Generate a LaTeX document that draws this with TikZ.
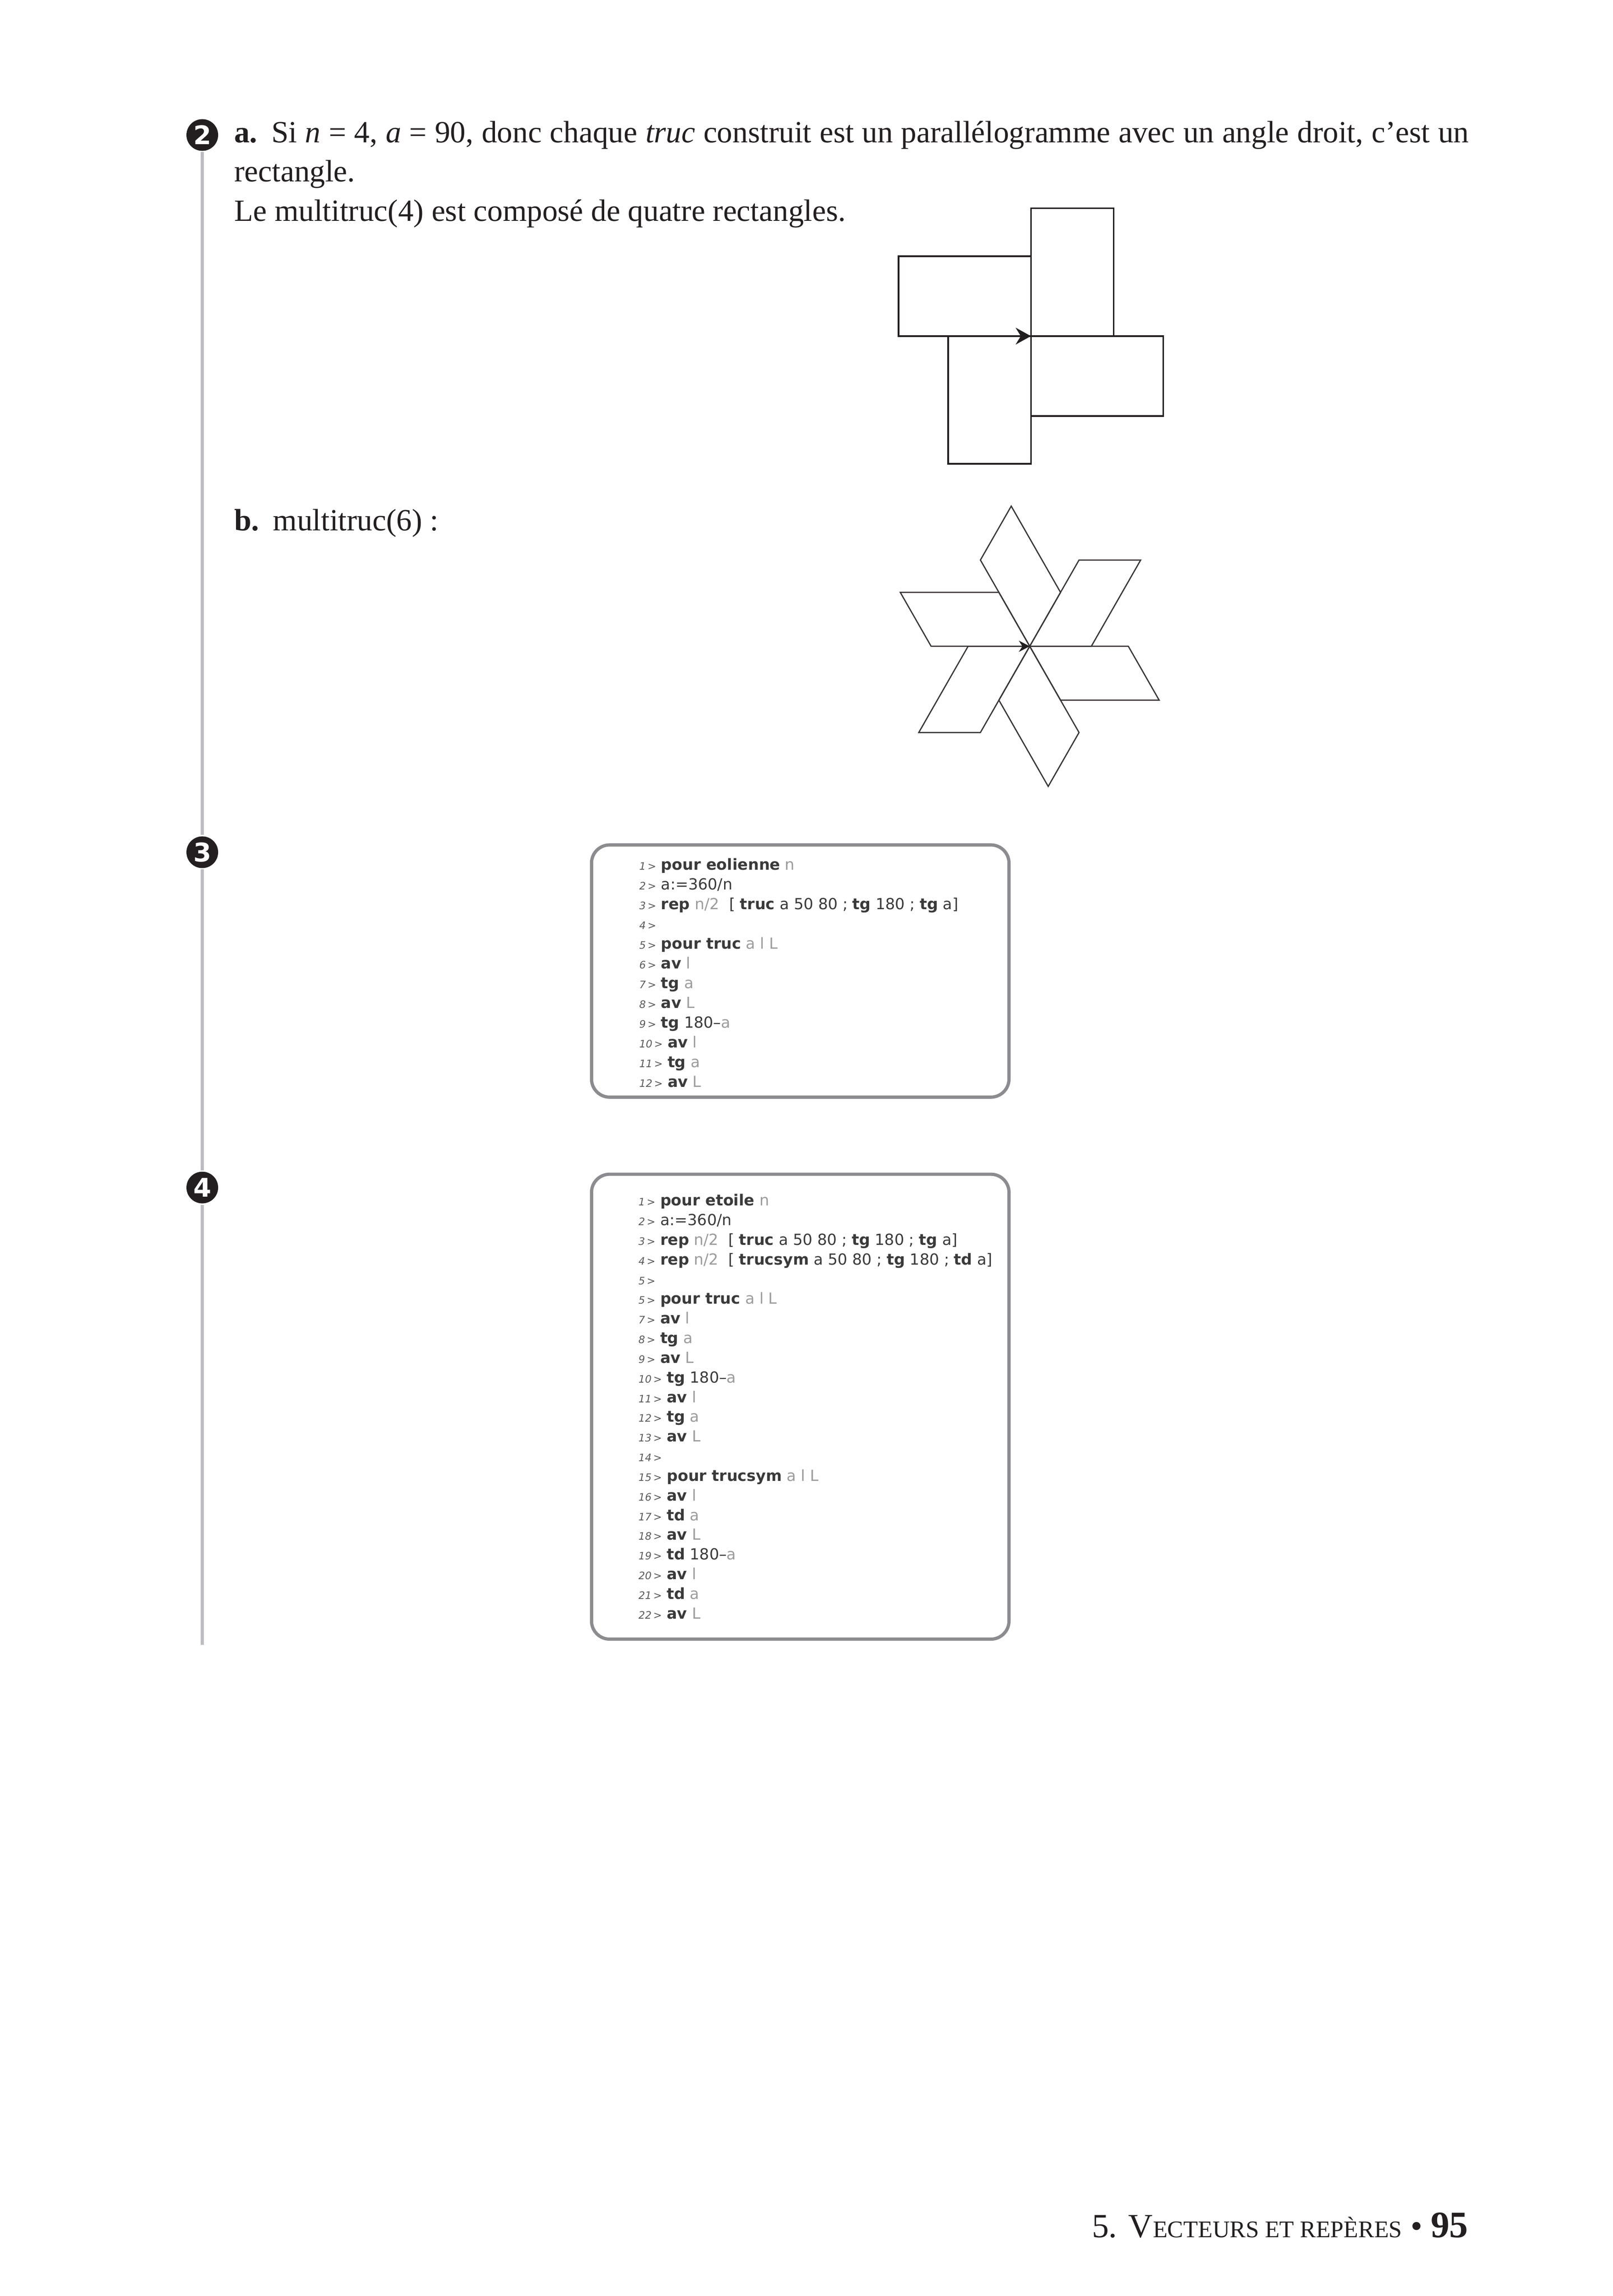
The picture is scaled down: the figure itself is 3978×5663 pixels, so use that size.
\documentclass[tikz,border=0pt]{standalone}
\usepackage{fontspec}
\setmainfont{Liberation Serif}
\setsansfont{DejaVu Sans}
\usepackage{xcolor}
\definecolor{ink}{HTML}{231F20}
\definecolor{rulegray}{HTML}{BDBDC1}
\definecolor{boxgray}{HTML}{8C8C90}
\definecolor{kwc}{HTML}{3A3A3A}
\definecolor{varc}{HTML}{9C9C9C}
\definecolor{numc}{HTML}{5A5A5A}
\newcommand\cKw[1]{{\bfseries\color{kwc}#1}}
\newcommand\cVar[1]{{\color{varc}#1}}
\newcommand\cNo[1]{{\fontsize{3.8}{4.5}\selectfont\itshape\color{numc}#1\,>}\ }
\tikzset{
  bodytext/.style={anchor=base west, inner sep=0pt, outer sep=0pt, text=ink, font=\fontsize{11.4}{13}\selectfont},
  codeline/.style={anchor=base west, inner sep=0pt, outer sep=0pt, text=kwc, font=\sffamily\fontsize{5.65}{6.5}\selectfont},
  codebox/.style={draw=boxgray, line width=1.2pt, rounded corners=6.7pt, fill=white, inner sep=0pt, minimum width=154.1pt},
  qnum/.style={circle, fill=ink, inner sep=0pt, minimum size=11.7pt, outer sep=0.5pt, text=white, font=\sffamily\bfseries\fontsize{9.5}{10}\selectfont},
  rulel/.style={draw=rulegray, line width=1.2pt},
  figline/.style={draw=ink, line width=0.6pt, line join=miter},
  starline/.style={draw=ink!90, line width=0.45pt, line join=miter},
}
\begin{document}
\begin{tikzpicture}[x=0.149643pt, y=-0.149643pt]
\fill[white] (0,0) rectangle (3978,5663);
\useasboundingbox (0,0) rectangle (3978,5663);

% question numbers and margin rule
\node[qnum] (q2) at (499,333) {2};
\node[qnum] (q3) at (499,2102) {3};
\node[qnum] (q4) at (499,2929) {4};
\coordinate (ruleend) at (499,4057);
\draw[rulel] (q2.south) -- (q3.north);
\draw[rulel] (q3.south) -- (q4.north);
\draw[rulel] (q4.south) -- (ruleend);

% text of question 2
\node[bodytext] (t1) at (578,352) {\hbox to 455.7pt{\textbf{a.}\hspace{0.45em}Si \textit{n} = 4, \textit{a} = 90, donc chaque \textit{truc} construit est un parallélogramme avec un angle droit, c’est un}};
\node[bodytext] (t2) at (578,448) {rectangle.};
\node[bodytext] (t3) at (578,545) {Le multitruc(4) est composé de quatre rectangles.};
\node[bodytext] (t4) at (578,1309) {\textbf{b.}\hspace{0.45em}multitruc(6) :};

% multitruc(4)
\coordinate (O4) at (2543,829);
\begin{scope}[shift={(O4)}, x=0.6105pt, y=0.5896pt]
  \foreach \h in {0,90,180,270}
    \draw[figline] (0,0) -- ++(\h:50) -- ++(\h+90:80) -- ++(\h+180:50) -- cycle;
\end{scope}
\fill[ink] (O4) -- ++(-38,-21) -- ++(13,21) -- ++(-13,21) -- cycle;

% multitruc(6)
\coordinate (O6) at (2540,1594);
\begin{scope}[shift={(O6)}, x=0.4550pt, y=0.4594pt]
  \foreach \h in {0,60,...,300}
    \draw[starline] (0,0) -- ++(\h:50) -- ++(\h+60:80) -- ++(\h+180:50) -- cycle;
\end{scope}
\fill[ink] (O6) -- ++(-27,-14) -- ++(9,14) -- ++(-9,14) -- cycle;

% box 3
\node[codebox, minimum height=93.1pt] (box3) at (1974,2395) {};
\node[codeline] (a1) at (1577,2146.0) {\cNo{1}\cKw{pour eolienne} \cVar{n}};
\node[codeline] (a2) at (1577,2194.7) {\cNo{2}a:=360/n};
\node[codeline] (a3) at (1577,2243.4) {\cNo{3}\cKw{rep} \cVar{n/2}\ \ [ \cKw{truc} a 50 80 ; \cKw{tg} 180 ; \cKw{tg} a]};
\node[codeline] (a4) at (1577,2292.1) {\cNo{4}};
\node[codeline] (a5) at (1577,2340.8) {\cNo{5}\cKw{pour truc} \cVar{a l L}};
\node[codeline] (a6) at (1577,2389.5) {\cNo{6}\cKw{av} \cVar{l}};
\node[codeline] (a7) at (1577,2438.2) {\cNo{7}\cKw{tg} \cVar{a}};
\node[codeline] (a8) at (1577,2486.9) {\cNo{8}\cKw{av} \cVar{L}};
\node[codeline] (a9) at (1577,2535.6) {\cNo{9}\cKw{tg} 180–\cVar{a}};
\node[codeline] (a10) at (1577,2584.3) {\cNo{10}\cKw{av} \cVar{l}};
\node[codeline] (a11) at (1577,2633.0) {\cNo{11}\cKw{tg} \cVar{a}};
\node[codeline] (a12) at (1577,2681.7) {\cNo{12}\cKw{av} \cVar{L}};

% box 4
\node[codebox, minimum height=171.6pt] (box4) at (1974,3469.5) {};
\node[codeline] (b1) at (1575,2974.0) {\cNo{1}\cKw{pour etoile} \cVar{n}};
\node[codeline] (b2) at (1575,3022.5) {\cNo{2}a:=360/n};
\node[codeline] (b3) at (1575,3071.0) {\cNo{3}\cKw{rep} \cVar{n/2}\ \ [ \cKw{truc} a 50 80 ; \cKw{tg} 180 ; \cKw{tg} a]};
\node[codeline] (b4) at (1575,3119.5) {\cNo{4}\cKw{rep} \cVar{n/2}\ \ [ \cKw{trucsym} a 50 80 ; \cKw{tg} 180 ; \cKw{td} a]};
\node[codeline] (b5) at (1575,3168.0) {\cNo{5}};
\node[codeline] (b6) at (1575,3216.5) {\cNo{5}\cKw{pour truc} \cVar{a l L}};
\node[codeline] (b7) at (1575,3265.0) {\cNo{7}\cKw{av} \cVar{l}};
\node[codeline] (b8) at (1575,3313.5) {\cNo{8}\cKw{tg} \cVar{a}};
\node[codeline] (b9) at (1575,3362.0) {\cNo{9}\cKw{av} \cVar{L}};
\node[codeline] (b10) at (1575,3410.5) {\cNo{10}\cKw{tg} 180–\cVar{a}};
\node[codeline] (b11) at (1575,3459.0) {\cNo{11}\cKw{av} \cVar{l}};
\node[codeline] (b12) at (1575,3507.5) {\cNo{12}\cKw{tg} \cVar{a}};
\node[codeline] (b13) at (1575,3556.0) {\cNo{13}\cKw{av} \cVar{L}};
\node[codeline] (b14) at (1575,3604.5) {\cNo{14}};
\node[codeline] (b15) at (1575,3653.0) {\cNo{15}\cKw{pour trucsym} \cVar{a l L}};
\node[codeline] (b16) at (1575,3701.5) {\cNo{16}\cKw{av} \cVar{l}};
\node[codeline] (b17) at (1575,3750.0) {\cNo{17}\cKw{td} \cVar{a}};
\node[codeline] (b18) at (1575,3798.5) {\cNo{18}\cKw{av} \cVar{L}};
\node[codeline] (b19) at (1575,3847.0) {\cNo{19}\cKw{td} 180–\cVar{a}};
\node[codeline] (b20) at (1575,3895.5) {\cNo{20}\cKw{av} \cVar{l}};
\node[codeline] (b21) at (1575,3944.0) {\cNo{21}\cKw{td} \cVar{a}};
\node[codeline] (b22) at (1575,3992.5) {\cNo{22}\cKw{av} \cVar{L}};

% footer
\node[anchor=base east, inner sep=0pt, text=ink, font=\fontsize{12.5}{14}\selectfont] (foot) at (3623,5518)
  {5. V{\fontsize{8.8}{9.5}\selectfont ECTEURS ET REPÈRES} \textbullet{} {\bfseries\fontsize{13.8}{15}\selectfont 95}};
\end{tikzpicture}
\end{document}
